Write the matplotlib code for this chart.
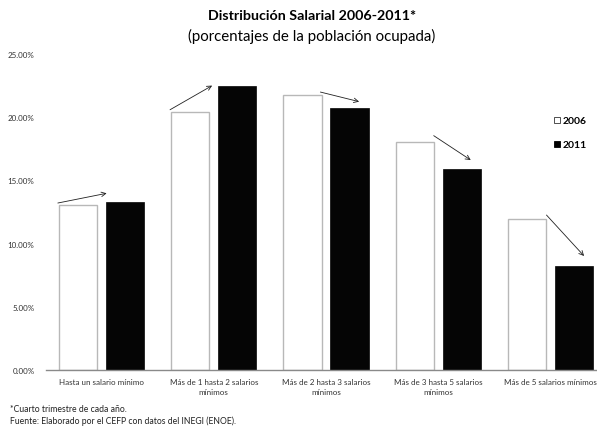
import matplotlib.pyplot as plt
from matplotlib.patches import Patch
import numpy as np

categories = [
    "Hasta un salario mínimo",
    "Más de 1 hasta 2 salarios\nmínimos",
    "Más de 2 hasta 3 salarios\nmínimos",
    "Más de 3 hasta 5 salarios\nmínimos",
    "Más de 5 salarios mínimos",
]
years = ["2006", "2011"]
values_2006 = [13.08, 20.40, 21.76, 18.06, 11.97]
values_2011 = [13.30, 22.50, 20.70, 15.90, 8.23]

# arrow anchors relative to group center / bar tops
arrow_dx0 = [-0.39, -0.39, -0.05, -0.04, -0.035]
arrow_dx1 = [0.045, -0.015, 0.295, 0.29, 0.30]
arrow_dy0 = [0.13, 0.19, 0.23, 0.48, 0.29]
arrow_dy1 = [0.68, 0.0, 0.53, 0.71, 0.79]

plt.rcParams["font.family"] = ["Lato", "DejaVu Sans"]

fig = plt.figure(figsize=(5.97, 4.35), dpi=100)
ax = fig.add_axes([45.5 / 597, 64 / 435, 561 / 597, 316 / 435])

x = np.arange(len(categories))
w = 0.34
off = 0.209

ax.bar(x - off, values_2006, w, color="white", edgecolor="#b8b8b8", linewidth=1.0,
       label=years[0], zorder=2)
ax.bar(x + off, values_2011, w, color="#050505", edgecolor="#050505", linewidth=0.5,
       label=years[1], zorder=2)

for i in range(len(categories)):
    ax.annotate(
        "",
        xy=(x[i] + arrow_dx1[i], values_2011[i] + arrow_dy1[i]),
        xytext=(x[i] + arrow_dx0[i], values_2006[i] + arrow_dy0[i]),
        arrowprops=dict(arrowstyle="->", color="#202020", lw=0.6,
                        shrinkA=0, shrinkB=0, mutation_scale=8),
        zorder=3,
    )

ax.set_xlim(-0.5, 4.5)
ax.set_ylim(0, 25)
ax.set_yticks(np.arange(0, 26, 5))
ax.set_yticklabels([f"{v:.2f}%" for v in np.arange(0, 26, 5)])
ax.set_xticks(x)
ax.set_xticklabels(categories, linespacing=1.4)
ax.tick_params(axis="both", length=0, labelsize=5.8, colors="#333333")
ax.tick_params(axis="y", pad=8)
ax.tick_params(axis="x", pad=6)

for s in ["top", "right", "left"]:
    ax.spines[s].set_visible(False)
ax.spines["bottom"].set_color("#8a8a8a")
ax.spines["bottom"].set_linewidth(1.0)

handles = [
    Patch(facecolor="white", edgecolor="#333333", linewidth=0.6),
    Patch(facecolor="black", edgecolor="black", linewidth=0.6),
]
fig.legend(handles, years, loc="upper left", bbox_to_anchor=(545 / 597, 1 - 108 / 435),
           frameon=False, handlelength=0.55, handleheight=0.55, handletextpad=0.2,
           labelspacing=1.45, prop={"weight": "bold", "size": 7.5})

fig.text(312 / 597, 1 - 16 / 435, "Distribución Salarial 2006-2011*", ha="center",
         va="center", fontsize=10.3, fontweight="bold")
fig.text(312 / 597, 1 - 36 / 435, "(porcentajes de la población ocupada)", ha="center",
         va="center", fontsize=10.8)

fig.text(10 / 597, 1 - 410 / 435, "*Cuarto trimestre de cada año.", fontsize=6.2,
         va="center", color="#222222")
fig.text(10 / 597, 1 - 421 / 435, "Fuente: Elaborado por el CEFP con datos del INEGI (ENOE).",
         fontsize=6.2, va="center", color="#222222")

fig.savefig("out.png", dpi=100)
